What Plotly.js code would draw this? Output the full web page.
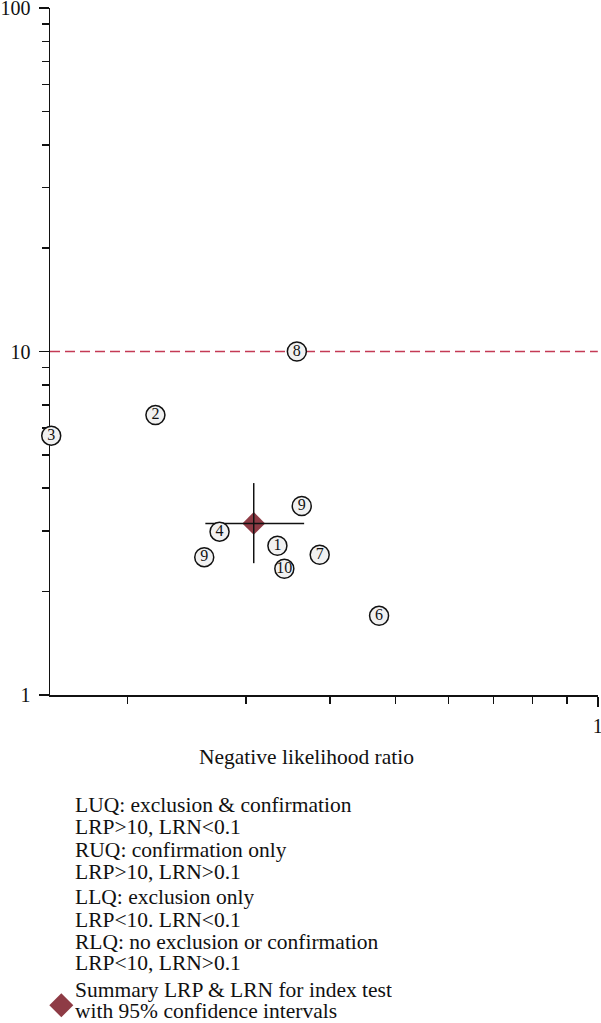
<!DOCTYPE html>
<html>
<head>
<meta charset="utf-8">
<script src="https://cdn.plot.ly/plotly-3.0.1.min.js"></script>
<style>html,body{margin:0;padding:0;background:#fff;}#chart{width:601px;height:1023px;}</style>
</head>
<body>
<div id="chart"></div>
<script>
// Study estimates: negative LR (x) and positive LR (y)
var studyLabels = ["8", "2", "3", "9", "4", "9", "1", "7", "10", "6"];
var studyLRN = [0.357, 0.220, 0.154, 0.363, 0.274, 0.260, 0.334, 0.386, 0.342, 0.473];
var studyLRP = [10.0, 6.53, 5.69, 3.55, 2.99, 2.52, 2.72, 2.56, 2.33, 1.70];

// Summary estimate with 95% CI
var summaryLRN = 0.308, summaryLRNlo = 0.261, summaryLRNhi = 0.366;
var summaryLRP = 3.16, summaryLRPlo = 2.42, summaryLRPhi = 4.14;

// Threshold
var lrpThreshold = 10;

// Axis ticks
var xMajorTicks = [1];
var xMajorText = ["1"];
var xMinorTicks = [0.2, 0.3, 0.4, 0.5, 0.6, 0.7, 0.8, 0.9];
var yMajorTicks = [1, 10, 100];
var yMajorText = ["1", "10", "100"];
var yMinorTicks = [2, 3, 4, 5, 6, 7, 8, 9, 20, 30, 40, 50, 60, 70, 80, 90];

var legendLines = [
  "LUQ: exclusion &amp; confirmation",
  "LRP&gt;10, LRN&lt;0.1",
  "RUQ: confirmation only",
  "LRP&gt;10, LRN&gt;0.1",
  "LLQ: exclusion only",
  "LRP&lt;10. LRN&lt;0.1",
  "RLQ: no exclusion or confirmation",
  "LRP&lt;10, LRN&gt;0.1",
  "Summary LRP &amp; LRN for index test",
  "with 95% confidence intervals"
];

var xTitle = "Negative likelihood ratio";

// ---- layout geometry (pixels) ----
var W = 601, H = 1023;
var mL = 50, mR = 3, mT = 8, mB = 328;
var pw = W - mL - mR, ph = H - mT - mB;
function px2paperX(px) { return (px - mL) / pw; }
function py2paperY(py) { return (H - mB - py) / ph; }

var xRange = [-0.8143, 0.0003];
var yRange = [0, 2.0003];
var serif = "Liberation Serif, Times New Roman, serif";
var darkRed = "#8e3b45";

var traces = [
  {
    x: [Math.pow(10, xRange[0]), 1],
    y: [lrpThreshold, lrpThreshold],
    mode: "lines",
    line: {color: "#c43a55", width: 1.5, dash: "10px,5px"},
    hoverinfo: "skip",
    showlegend: false
  },
  {
    x: [summaryLRN],
    y: [summaryLRP],
    mode: "markers",
    marker: {symbol: "diamond", size: 17.5, color: darkRed},
    showlegend: false
  },
  {
    x: [summaryLRNlo, summaryLRNhi],
    y: [summaryLRP, summaryLRP],
    mode: "lines",
    line: {color: "#111", width: 1.5},
    showlegend: false
  },
  {
    x: [summaryLRN, summaryLRN],
    y: [summaryLRPlo, summaryLRPhi],
    mode: "lines",
    line: {color: "#111", width: 1.5},
    showlegend: false
  },
  {
    x: studyLRN,
    y: studyLRP,
    mode: "markers+text",
    text: studyLabels,
    textposition: "middle center",
    textfont: {family: serif, size: 16, color: "#111"},
    marker: {size: 19, color: "#f1f1f1", line: {color: "#111", width: 1.5}},
    cliponaxis: false,
    showlegend: false
  }
];

var annotations = [];
var legendY = [805, 827, 850, 872, 897, 920, 942, 963, 990, 1011];
for (var i = 0; i < legendLines.length; i++) {
  annotations.push({
    xref: "paper", yref: "paper",
    x: px2paperX(74), y: py2paperY(legendY[i]),
    xanchor: "left", yanchor: "middle",
    text: legendLines[i], showarrow: false,
    height: 24, borderpad: 0,
    font: {family: serif, size: 21.5, color: "#111"}
  });
}
annotations.push({
  xref: "paper", yref: "paper",
  x: px2paperX(306), y: py2paperY(757),
  xanchor: "center", yanchor: "middle",
  text: xTitle, showarrow: false,
  font: {family: serif, size: 21.5, color: "#111"}
});

// legend diamond
var dcx = 61.3, dcy = 1005.3, dr = 12;
var shapes = [{
  type: "path", xref: "paper", yref: "paper",
  path: "M " + px2paperX(dcx - dr) + "," + py2paperY(dcy) +
        " L " + px2paperX(dcx) + "," + py2paperY(dcy - dr) +
        " L " + px2paperX(dcx + dr) + "," + py2paperY(dcy) +
        " L " + px2paperX(dcx) + "," + py2paperY(dcy + dr) + " Z",
  fillcolor: darkRed, line: {width: 0}
}];

var layout = {
  width: W, height: H,
  margin: {l: mL, r: mR, t: mT, b: mB, pad: 0},
  paper_bgcolor: "#fff", plot_bgcolor: "#fff",
  showlegend: false,
  xaxis: {
    type: "log", range: xRange,
    tickmode: "array", tickvals: xMajorTicks, ticktext: xMajorText,
    ticks: "outside", ticklen: 10, tickwidth: 1.5, tickcolor: "#111",
    minor: {tickmode: "array", tickvals: xMinorTicks, ticks: "outside", ticklen: 7, tickwidth: 1.5, tickcolor: "#111", showgrid: false},
    showline: true, linecolor: "#111", linewidth: 1.5,
    showgrid: false, zeroline: false,
    tickfont: {family: serif, size: 20, color: "#111"},
    ticklabelstandoff: 2,
    ticklabeloverflow: "allow",
    layer: "below traces",
    fixedrange: true
  },
  yaxis: {
    type: "log", range: yRange,
    tickmode: "array", tickvals: yMajorTicks, ticktext: yMajorText,
    ticks: "outside", ticklen: 10, tickwidth: 1.5, tickcolor: "#111",
    minor: {tickmode: "array", tickvals: yMinorTicks, ticks: "outside", ticklen: 7, tickwidth: 1.5, tickcolor: "#111", showgrid: false},
    showline: true, linecolor: "#111", linewidth: 1.5,
    showgrid: false, zeroline: false,
    tickfont: {family: serif, size: 20, color: "#111"},
    ticklabelstandoff: 4,
    ticklabeloverflow: "allow",
    layer: "below traces",
    fixedrange: true
  },
  annotations: annotations,
  shapes: shapes
};

Plotly.newPlot("chart", traces, layout, {staticPlot: true, displayModeBar: false});
</script>
</body>
</html>
